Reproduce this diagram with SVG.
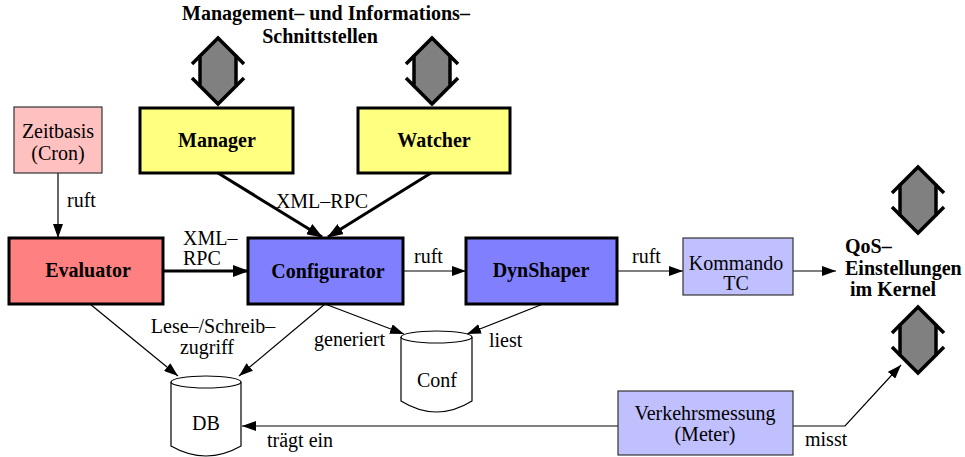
<svg xmlns="http://www.w3.org/2000/svg" width="965" height="457" viewBox="0 0 965 457" font-family="'Liberation Serif', 'Times New Roman', Times, serif">
  <defs>
    <style>
      text { font-family: 'Liberation Serif', 'Times New Roman', Times, serif; font-size: 20px; fill: #000; }
      .b { font-weight: bold; }
      .m { text-anchor: middle; }
      .box { stroke: #000; stroke-width: 3; }
      .thin { stroke: #333; stroke-width: 1.2; }
      .ln { stroke: #000; stroke-width: 1.2; fill: none; }
      .lnb { stroke: #000; stroke-width: 3; fill: none; }
      .dbl { fill: #808080; stroke: #000; stroke-width: 3.5; stroke-linejoin: miter; }
      .wing { fill: none; stroke: #000; stroke-width: 3.5; }
      .cyl { fill: #fff; stroke: #000; stroke-width: 1.2; }
    </style>
    <marker id="ah" viewBox="0 0 14 10" refX="14" refY="5" markerWidth="14" markerHeight="10" markerUnits="userSpaceOnUse" orient="auto">
      <path d="M0,0 L14,5 L0,10 Z" fill="#000"/>
    </marker>
    <marker id="ahb" viewBox="0 0 16 12" refX="15" refY="6" markerWidth="16" markerHeight="12" markerUnits="userSpaceOnUse" orient="auto">
      <path d="M0,0 L16,6 L0,12 Z" fill="#000"/>
    </marker>
    <!-- double-headed interface arrow, centred on (0,0), 66 px tall -->
    <g id="iface">
      <path class="dbl" d="M0,-33 L-18,-15 L-18,15 L0,33 L18,15 L18,-15 Z"/>
      <path class="wing" d="M-18,-15 L-26,-7 M18,-15 L26,-7 M-18,15 L-26,7 M18,15 L26,7"/>
    </g>
  </defs>

  <rect width="965" height="457" fill="#fff"/>

  <!-- interfaces heading -->
  <g id="heading">
    <text class="b m" x="326" y="20">Management– und Informations–</text>
    <text class="b m" x="320" y="43">Schnittstellen</text>
  </g>

  <!-- connectors -->
  <g id="connectors">
    <line class="ln" x1="58" y1="173" x2="58" y2="238" marker-end="url(#ah)"/>
    <line class="lnb" x1="163" y1="271" x2="248" y2="271" marker-end="url(#ahb)"/>
    <line class="lnb" x1="218" y1="173" x2="322" y2="237" marker-end="url(#ahb)"/>
    <line class="lnb" x1="431" y1="173" x2="328" y2="237" marker-end="url(#ahb)"/>
    <line class="ln" x1="403" y1="271" x2="466" y2="271" marker-end="url(#ah)"/>
    <line class="ln" x1="617" y1="271" x2="683" y2="271" marker-end="url(#ah)"/>
    <line class="ln" x1="793" y1="271" x2="836" y2="271" marker-end="url(#ah)"/>
    <line class="ln" x1="90" y1="304" x2="178" y2="376" marker-end="url(#ah)"/>
    <line class="ln" x1="325" y1="304" x2="239" y2="376" marker-end="url(#ah)"/>
    <line class="ln" x1="325" y1="304" x2="404" y2="334" marker-end="url(#ah)"/>
    <line class="ln" x1="543" y1="304" x2="467" y2="334" marker-end="url(#ah)"/>
    <line class="ln" x1="618" y1="426" x2="242" y2="426" marker-end="url(#ah)"/>
    <polyline class="ln" points="793,426 845,426 901,365" marker-end="url(#ah)"/>

    <text x="67" y="207">ruft</text>
    <text x="183" y="245">XML–</text>
    <text x="183" y="265">RPC</text>
    <text class="m" x="322" y="208">XML–RPC</text>
    <text x="414" y="263">ruft</text>
    <text x="632" y="263">ruft</text>
    <text class="m" x="213" y="333">Lese–/Schreib–</text>
    <text class="m" x="207" y="354">zugriff</text>
    <text x="314" y="346">generiert</text>
    <text x="489" y="347">liest</text>
    <text x="267" y="447">trägt ein</text>
    <text x="805" y="446">misst</text>
  </g>

  <g id="iface-manager"><use href="#iface" x="218" y="71"/></g>
  <g id="iface-watcher"><use href="#iface" x="432" y="71"/></g>
  <g id="iface-kernel-top"><use href="#iface" x="918" y="200"/></g>
  <g id="iface-kernel-bottom"><use href="#iface" x="918" y="340"/></g>

  <g id="zeitbasis">
    <rect class="thin" x="14" y="107" width="88" height="66" fill="#ffc0c0"/>
    <text class="m" x="58" y="138">Zeitbasis</text>
    <text class="m" x="58" y="160">(Cron)</text>
  </g>

  <g id="manager">
    <rect class="box" x="140" y="108" width="153" height="65" fill="#ffff80"/>
    <text class="b m" x="217" y="147">Manager</text>
  </g>

  <g id="watcher">
    <rect class="box" x="358" y="108" width="152" height="65" fill="#ffff80"/>
    <text class="b m" x="434" y="147">Watcher</text>
  </g>

  <g id="evaluator">
    <rect class="box" x="9" y="238" width="154" height="66" fill="#ff8080"/>
    <text class="b m" x="88" y="277">Evaluator</text>
  </g>

  <g id="configurator">
    <rect class="box" x="248" y="238" width="155" height="66" fill="#8080ff"/>
    <text class="b m" x="328" y="278">Configurator</text>
  </g>

  <g id="dynshaper">
    <rect class="box" x="466" y="238" width="151" height="66" fill="#8080ff"/>
    <text class="b m" x="541" y="277">DynShaper</text>
  </g>

  <g id="kommando">
    <rect class="thin" x="683" y="238" width="110" height="57" fill="#c0c0ff"/>
    <text class="m" x="736" y="270">Kommando</text>
    <text class="m" x="736" y="290">TC</text>
  </g>

  <g id="qos">
    <text class="b" x="845" y="253">QoS–</text>
    <text class="b" x="845" y="275">Einstellungen</text>
    <text class="b" x="850" y="296">im Kernel</text>
  </g>

  <g id="verkehrsmessung">
    <rect class="thin" x="618" y="391" width="175" height="64" fill="#c0c0ff"/>
    <text class="m" x="705" y="420">Verkehrsmessung</text>
    <text class="m" x="705" y="441">(Meter)</text>
  </g>

  <g id="db">
    <path class="cyl" d="M171,382 L171,446 Q206,466 241,446 L241,382"/>
    <ellipse class="cyl" cx="206" cy="382" rx="35" ry="6"/>
    <text class="m" x="206" y="430">DB</text>
  </g>

  <g id="conf">
    <path class="cyl" d="M401,337 L401,401 Q436.5,423 472,401 L472,337"/>
    <ellipse class="cyl" cx="436.5" cy="337" rx="35.5" ry="6"/>
    <text class="m" x="437" y="387">Conf</text>
  </g>
</svg>
